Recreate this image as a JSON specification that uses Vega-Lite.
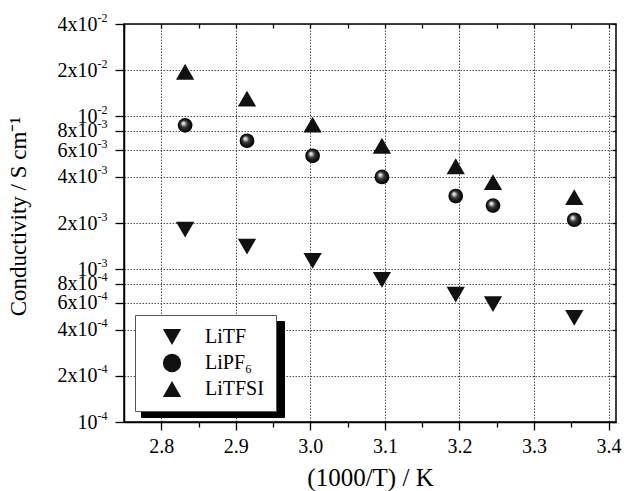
{
  "$schema": "https://vega.github.io/schema/vega-lite/v6.json",
  "width": 492,
  "height": 398,
  "autosize": {"type": "none"},
  "padding": {"left": 124, "top": 24, "right": 8, "bottom": 69},
  "config": {
    "font": "Liberation Serif",
    "view": {"stroke": "#000", "strokeWidth": 1.5},
    "axis": {
      "labelFont": "Liberation Serif",
      "titleFont": "Liberation Serif",
      "labelColor": "#000",
      "titleColor": "#000",
      "tickColor": "#000",
      "domainColor": "#000",
      "labelFontSize": 20,
      "titleFontSize": 23,
      "titleFontWeight": "normal",
      "gridColor": "#222",
      "gridDash": [1.5, 1.5],
      "gridWidth": 0.8,
      "tickWidth": 1.3,
      "domainWidth": 1.5,
      "labelOverlap": false,
      "labelBound": false,
      "labelFlush": false
    }
  },
  "data": {
    "values": [
      {"series": "LiTF", "invT": 2.832, "sigma": 0.00181},
      {"series": "LiTF", "invT": 2.915, "sigma": 0.0014},
      {"series": "LiTF", "invT": 3.003, "sigma": 0.00113},
      {"series": "LiTF", "invT": 3.096, "sigma": 0.00085},
      {"series": "LiTF", "invT": 3.195, "sigma": 0.00068},
      {"series": "LiTF", "invT": 3.245, "sigma": 0.00059},
      {"series": "LiTF", "invT": 3.354, "sigma": 0.00048},
      {"series": "LiPF₆", "invT": 2.832, "sigma": 0.0087},
      {"series": "LiPF₆", "invT": 2.915, "sigma": 0.0069},
      {"series": "LiPF₆", "invT": 3.003, "sigma": 0.0055},
      {"series": "LiPF₆", "invT": 3.096, "sigma": 0.004},
      {"series": "LiPF₆", "invT": 3.195, "sigma": 0.003},
      {"series": "LiPF₆", "invT": 3.245, "sigma": 0.0026},
      {"series": "LiPF₆", "invT": 3.354, "sigma": 0.0021},
      {"series": "LiTFSI", "invT": 2.832, "sigma": 0.0195},
      {"series": "LiTFSI", "invT": 2.915, "sigma": 0.013},
      {"series": "LiTFSI", "invT": 3.003, "sigma": 0.0088},
      {"series": "LiTFSI", "invT": 3.096, "sigma": 0.0064},
      {"series": "LiTFSI", "invT": 3.195, "sigma": 0.0047},
      {"series": "LiTFSI", "invT": 3.245, "sigma": 0.0037},
      {"series": "LiTFSI", "invT": 3.354, "sigma": 0.00295}
    ]
  },
  "layer": [
    {
      "mark": {"type": "point", "filled": true, "opacity": 0},
      "encoding": {
        "x": {"field": "invT", "type": "quantitative", "scale": {"domain": [2.75, 3.41], "nice": false, "zero": false},
          "axis": {"orient": "top", "values": [2.75, 2.8, 2.85, 2.9, 2.95, 3.0, 3.05, 3.1, 3.15, 3.2, 3.25, 3.3, 3.35, 3.4], "tickSize": -4, "labels": false, "domain": false, "grid": false, "title": null}},
        "y": {"field": "sigma", "type": "quantitative", "scale": {"type": "log", "domain": [0.0001, 0.04], "nice": false},
          "axis": {"orient": "right", "values": [0.0001, 0.0002, 0.0004, 0.0006, 0.0008, 0.001, 0.002, 0.004, 0.006, 0.008, 0.01, 0.02, 0.04], "tickSize": -4, "labels": false, "domain": false, "grid": false, "title": null}},
        "color": {"field": "series", "type": "nominal", "scale": {"domain": ["LiTFSI", "LiTF", "LiPF₆"], "range": ["#000", "#000", "#000"]},
          "legend": {"title": null, "orient": "none", "legendX": 17, "legendY": 297, "fillColor": "#000", "strokeColor": "#000", "padding": 12, "symbolOffset": 15, "labelOffset": 84, "rowPadding": 6, "labelFontSize": 20, "labelFont": "Liberation Serif", "labelColor": "#000", "symbolSize": 335, "symbolStrokeWidth": 0, "symbolFillColor": "#000", "symbolOpacity": 1, "labelLimit": 200,
            "labelExpr": "'\u2003\u2003\u2003'"}}
      }
    },
    {
      "mark": {"type": "point", "filled": true, "opacity": 0},
      "encoding": {
        "x": {"field": "invT", "type": "quantitative",
          "axis": {"orient": "bottom", "values": [2.85, 2.95, 3.05, 3.15, 3.25, 3.35], "tickSize": 5, "labels": false, "domain": false, "grid": false, "title": null}},
        "y": {"field": "sigma", "type": "quantitative",
          "axis": {"orient": "left", "values": [0.0001, 0.0002, 0.0004, 0.0006, 0.0008, 0.001, 0.002, 0.004, 0.006, 0.008, 0.01, 0.02, 0.04], "ticks": false, "domain": false, "grid": false, "title": null, "labelFontSize": 12, "labelPadding": 17, "labelOffset": -7, "labelAlign": "right", "labelBaseline": "middle",
            "labelExpr": "'-' + (-floor(log(datum.value)/LN10 + 0.000001))"}}
      }
    },
    {
      "transform": [{"filter": "datum.series != 'LiPF₆'"}],
      "mark": {"type": "point", "filled": true, "color": "#111", "strokeWidth": 0, "size": 335, "opacity": 1},
      "encoding": {
        "x": {"field": "invT", "type": "quantitative",
          "axis": {"orient": "bottom", "values": [2.8, 2.9, 3.0, 3.1, 3.2, 3.3, 3.4], "format": ".1f", "grid": true, "tickSize": 8, "labelPadding": 6, "title": "(1000/T) / K", "titleFontSize": 25, "titleY": 63, "titleBaseline": "alphabetic"}},
        "y": {"field": "sigma", "type": "quantitative",
          "axis": {"orient": "left", "values": [0.0001, 0.0002, 0.0004, 0.0006, 0.0008, 0.001, 0.002, 0.004, 0.006, 0.008, 0.01, 0.02, 0.04], "grid": true, "tickSize": 9, "labelPadding": 18, "labelAlign": "right", "labelBaseline": "middle",
            "labelExpr": "(round(datum.value/pow(10, floor(log(datum.value)/LN10 + 0.000001))) == 1 ? '' : round(datum.value/pow(10, floor(log(datum.value)/LN10 + 0.000001))) + 'x') + '10'",
            "title": "Conductivity / S cm⁻¹", "titleX": -99, "titleY": 192, "titleBaseline": "alphabetic", "titleAlign": "center", "titleAngle": -90}},
        "shape": {"field": "series", "type": "nominal", "scale": {"domain": ["LiTF", "LiPF₆", "LiTFSI"], "range": ["triangle-down", "circle", "triangle-up"]},
          "legend": {"title": null, "orient": "none", "legendX": 11, "legendY": 291, "fillColor": "#fff", "strokeColor": "#555", "padding": 12, "symbolOffset": 15, "labelOffset": 23, "rowPadding": 6, "labelFontSize": 20, "labelFont": "Liberation Serif", "labelColor": "#000", "symbolSize": 335, "symbolStrokeWidth": 0, "symbolFillColor": "#111", "symbolOpacity": 1, "labelLimit": 200}}
      }
    },
    {
      "transform": [{"filter": "datum.series == 'LiPF₆'"}],
      "mark": {"type": "point", "shape": "circle", "size": 216, "filled": true, "strokeWidth": 0, "opacity": 1,
        "fill": {"gradient": "radial", "x1": 0.36, "y1": 0.33, "r1": 0, "x2": 0.5, "y2": 0.5, "r2": 0.5,
          "stops": [{"offset": 0, "color": "#ffffff"}, {"offset": 0.18, "color": "#cfcfcf"}, {"offset": 0.45, "color": "#3a3a3a"}, {"offset": 0.8, "color": "#111111"}, {"offset": 1, "color": "#000000"}]}},
      "encoding": {
        "x": {"field": "invT", "type": "quantitative", "axis": null},
        "y": {"field": "sigma", "type": "quantitative", "axis": null}
      }
    }
  ],
  "resolve": {"axis": {"x": "independent", "y": "independent"}}
}
